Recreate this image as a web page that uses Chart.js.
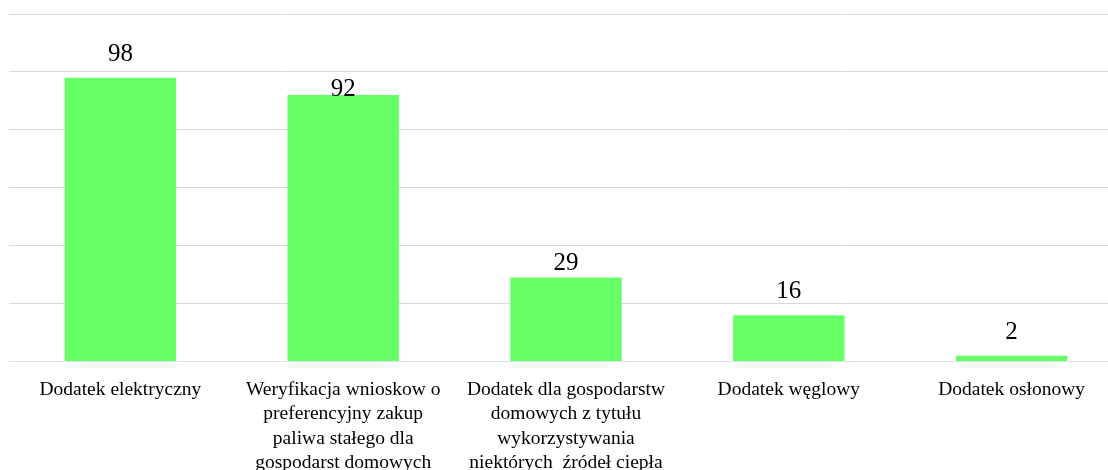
<!DOCTYPE html>
<html>
<head>
<meta charset="utf-8">
<script src="https://cdn.jsdelivr.net/npm/chart.js"></script>
<style>
  html, body { margin: 0; padding: 0; background: #fff; overflow: hidden; }
  #wrap { width: 1123px; height: 483px; }
</style>
</head>
<body>
<div id="wrap"><canvas id="myChart"></canvas></div>
<script>
// kategorie (etykiety osi X, wielowierszowe)
const kategorie = [
    'Dodatek elektryczny',
    ['Weryfikacja wnioskow o', 'preferencyjny zakup', 'paliwa stałego dla', 'gospodarst domowych'],
    ['Dodatek dla gospodarstw', 'domowych z tytułu', 'wykorzystywania', 'niektórych  źródeł ciepła'],
    'Dodatek węglowy',
    'Dodatek osłonowy'
];
// liczba spraw
const wartosci = [98, 92, 29, 16, 2];
// skala osi Y
const osMin = 0;
const osMax = 120;
const osKrok = 20;

// etykiety nad słupkami (odstęp od wierzchołka słupka, jak w oryginale)
const etykietyPlugin = {
    id: 'etykiety',
    afterDatasetsDraw(chart, args, opts) {
        const ctx = chart.ctx;
        const meta = chart.getDatasetMeta(0);
        ctx.save();
        ctx.font = opts.font;
        ctx.fillStyle = opts.color;
        ctx.textAlign = 'center';
        ctx.textBaseline = 'alphabetic';
        meta.data.forEach((bar, i) => {
            const odstep = opts.odstepy[i];
            ctx.fillText(chart.data.datasets[0].data[i], bar.x, bar.y - odstep);
        });
        ctx.restore();
    }
};

new Chart(document.getElementById('myChart'), {
    type: 'bar',
    data: {
        labels: kategorie,
        datasets: [{
            data: wartosci,
            backgroundColor: '#66ff66',
            borderWidth: 0,
            barPercentage: 0.5,
            categoryPercentage: 1.0
        }]
    },
    options: {
        responsive: true,
        maintainAspectRatio: false,
        animation: false,
        layout: { padding: { left: 9, right: 0, top: 14, bottom: 0 } },
        plugins: {
            legend: { display: false },
            tooltip: { enabled: false },
            etykiety: {
                font: '25px "Liberation Serif", "Times New Roman", serif',
                color: '#000',
                odstepy: [17, -1, 8, 17, 17]
            }
        },
        scales: {
            x: {
                grid: { display: false },
                border: { display: true, color: '#dde1e8', width: 1 },
                ticks: {
                    color: '#000',
                    maxRotation: 0,
                    autoSkip: false,
                    padding: 8,
                    font: { family: '"Liberation Serif", "Times New Roman", serif', size: 19.5, lineHeight: 1.25 }
                }
            },
            y: {
                min: osMin,
                max: osMax,
                ticks: { display: false, stepSize: osKrok },
                grid: { color: '#d9d9d9', lineWidth: 1, drawTicks: false },
                border: { display: false }
            }
        }
    },
    plugins: [etykietyPlugin]
});
</script>
</body>
</html>
